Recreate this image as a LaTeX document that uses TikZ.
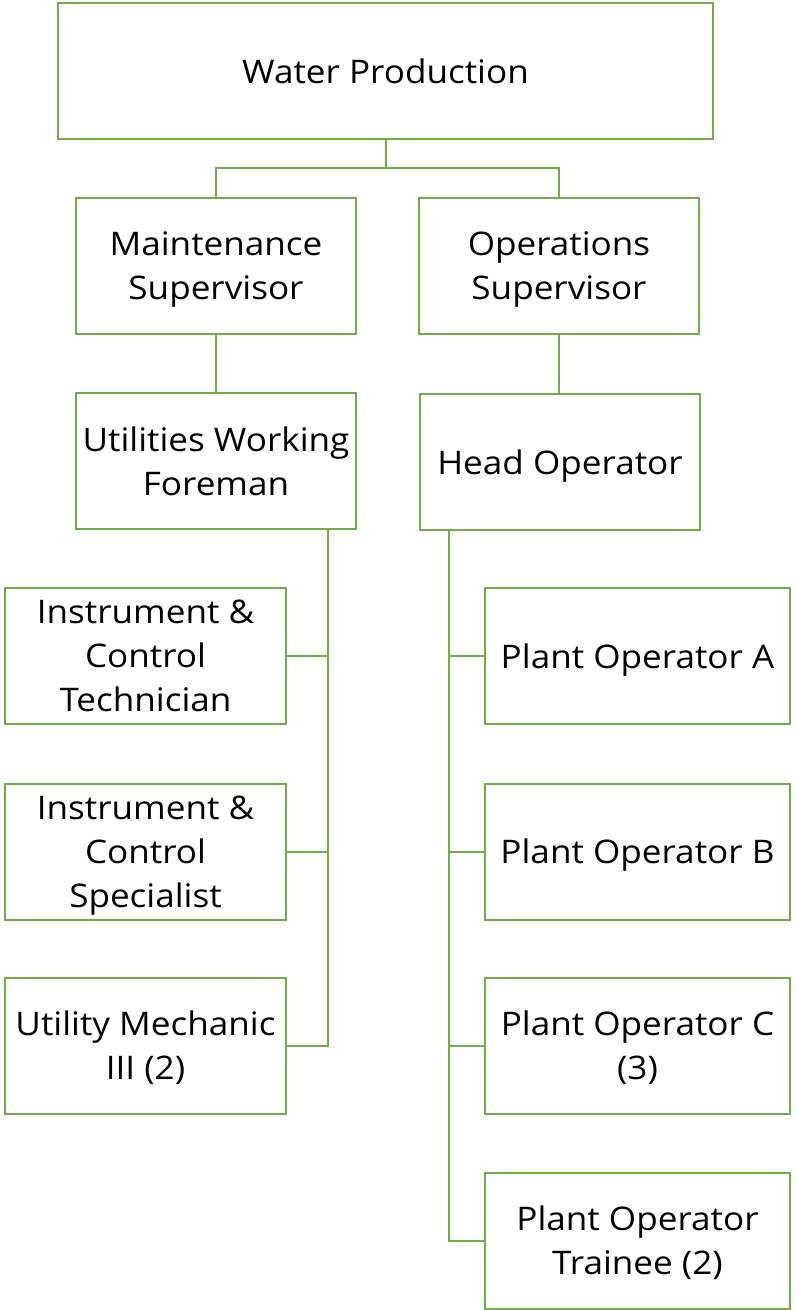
\documentclass[tikz,border=0pt]{standalone}
\usepackage{fontspec}
\setmainfont[FakeStretch=1.08]{Open Sans}
\definecolor{boxgreen}{HTML}{70AD47}
\begin{document}
\begin{tikzpicture}[x=1pt,y=-1pt,
  box/.style={draw=boxgreen, line width=2pt, fill=white, rectangle, align=center,
    minimum height=136pt, inner sep=0pt, text depth=0pt, font=\fontsize{32.5}{44}\selectfont},
  wbox/.style={box, minimum width=280pt},
  pbox/.style={box, minimum width=305pt},
  link/.style={draw=boxgreen, line width=2pt}]
\useasboundingbox (0,0) rectangle (796,1310);
\node[box, minimum width=655pt] (wp) at (385.5,71) {Water Production};
\node[wbox] (ms) at (216,266) {Maintenance\\Supervisor};
\node[wbox] (os) at (559,266) {Operations\\Supervisor};
\node[wbox] (uwf) at (216,461) {Utilities Working\\Foreman};
\node[wbox] (ho) at (560,462) {Head Operator};
\node[wbox, minimum width=281pt] (ict) at (145.5,656) {Instrument \&\\Control\\Technician};
\node[wbox, minimum width=281pt] (ics) at (145.5,851.5) {Instrument \&\\Control\\Specialist};
\node[wbox, minimum width=281pt] (um) at (145.5,1045.5) {Utility Mechanic\\III (2)};
\node[pbox] (poa) at (637.5,656) {Plant Operator A};
\node[pbox] (pob) at (637.5,851.5) {Plant Operator B};
\node[pbox] (poc) at (637.5,1045.5) {Plant Operator C\\(3)};
\node[pbox] (pot) at (637.5,1240.5) {Plant Operator\\Trainee (2)};
\coordinate (mid) at (385.5,168);
\coordinate (lt) at (328,0);
\coordinate (rt) at (449,0);
\draw[link] (wp.south) -- (mid);
\draw[link] (ms.north) |- (mid) -| (os.north);
\draw[link] (ms.south) -- (uwf.south |- uwf.north);
\draw[link] (os.south) -- (os.south |- ho.north);
\draw[link] (uwf.south -| lt) |- (um.east);
\draw[link] (ict.east) -- (ict.east -| lt);
\draw[link] (ics.east) -- (ics.east -| lt);
\draw[link] (ho.south -| rt) |- (pot.west);
\draw[link] (poa.west) -- (poa.west -| rt);
\draw[link] (pob.west) -- (pob.west -| rt);
\draw[link] (poc.west) -- (poc.west -| rt);
\end{tikzpicture}
\end{document}
